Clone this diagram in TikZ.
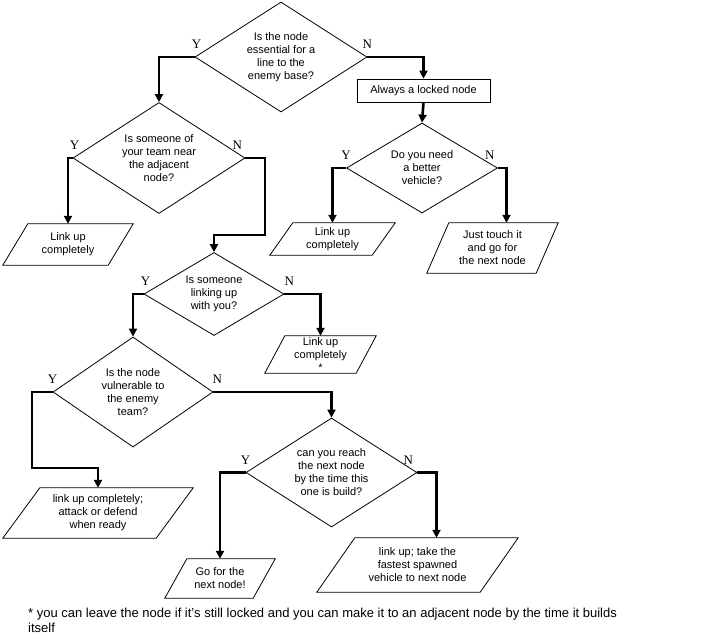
\documentclass[tikz,border=0pt]{standalone}
\usepackage{fontspec}
\setmainfont{Liberation Sans}
\newfontfamily\ynfont{Liberation Serif}
\usetikzlibrary{shapes.geometric,arrows.meta}

% outline of a parallelogram round a plain node
\newcommand{\paraframe}[2]{%
  \draw[line width=0.8pt] ([xshift=#2]#1.north west) -- ([xshift=#2]#1.north east)
    -- ([xshift=-#2]#1.south east) -- ([xshift=-#2]#1.south west) -- cycle;}

\begin{document}
\begin{tikzpicture}[x=1pt,y=-1pt,
  every node/.style={font=\fontsize{11}{13}\selectfont},
  quest/.style={diamond,draw,line width=0.8pt,aspect=1.6,inner sep=0pt,align=center},
  para/.style={inner sep=0pt,align=center},
  yn/.style={font=\ynfont\fontsize{13}{13}\selectfont,above,inner sep=0pt,yshift=7pt},
  arr/.style={line width=2.6pt,-{Triangle[length=8pt,width=8pt]}}]
\useasboundingbox (0,0) rectangle (721,641);

% questions
\node[quest,minimum width=172,minimum height=110] (d1) at (281,57)
  {Is the node\\essential for a\\line to the\\enemy base?};
\node[quest,minimum width=172,minimum height=111] (d2) at (159,158)
  {Is someone of\\your team near\\the adjacent\\node?};
\node[quest,minimum width=140,minimum height=83] (d3) at (214,294)
  {Is someone\\linking up\\with you?};
\node[quest,minimum width=160,minimum height=110] (d4) at (133,392)
  {Is the node\\vulnerable to\\the enemy\\team?};
\node[quest,minimum width=171,minimum height=109] (d5) at (331.5,472.5)
  {can you reach\\the next node\\by the time this\\one is build?};
\node[quest,minimum width=151,minimum height=90] (d6) at (422,168)
  {Do you need\\a better\\vehicle?};
\node[draw,line width=0.8pt,minimum width=133,minimum height=23,inner sep=0pt] (lock) at (423.5,90.5)
  {Always a locked node};

% answers
\node[para,minimum width=105,minimum height=41] (p1) at (68,244.5) {Link up\\completely};
\node[para,minimum width=102,minimum height=32] (p2) at (332.5,239) {Link up\\completely};
\node[para,minimum width=109,minimum height=50] (p3) at (492.5,248) {Just touch it\\and go for\\the next node};
\node[para,minimum width=91,minimum height=37] (p4) at (320.5,354.5) {Link up\\completely\\*};
\node[para,minimum width=153,minimum height=50] (p5) at (98,513) {link up completely;\\attack or defend\\when ready};
\node[para,minimum width=88,minimum height=39] (p6) at (220,578.5) {Go for the\\next node!};
\node[para,minimum width=163,minimum height=54] (p7) at (417.5,565) {link up; take the\\fastest spawned\\vehicle to next node};
\paraframe{p1}{12.5}
\paraframe{p2}{11.5}
\paraframe{p3}{11}
\paraframe{p4}{10}
\paraframe{p5}{18.5}
\paraframe{p6}{11}
\paraframe{p7}{19}

\coordinate (k1) at (265,235);
\coordinate (k2) at (32,468);

% connectors
\draw[arr] (d1.west) node[yn,xshift=2] {Y} -| (d2.north);
\draw[arr] (d1.east) node[yn] {N} -| (lock.north);
\draw[arr] (lock.south) -- (d6.north);
\draw[arr] (d6.west) node[yn] {Y} -| (p2.north);
\draw[arr] (d6.east) node[yn,xshift=-8] {N} -| ([xshift=14]p3.north);
\draw[arr] (d2.west) node[yn,xshift=2] {Y} -| (p1.north);
\draw[arr] (d2.east) node[yn,xshift=-8] {N} -| (k1) -| (d3.north);
\draw[arr] (d3.west) node[yn,xshift=2] {Y} -| (d4.north);
\draw[arr] (d3.east) node[yn,xshift=5] {N} -| (p4.north);
\draw[arr] (d4.west) node[yn] {Y} -| (k2) -| (p5.north);
\draw[arr] (d4.east) node[yn,xshift=4] {N} -| (d5.north);
\draw[arr] (d5.west) node[yn] {Y} -| (p6.north);
\draw[arr] (d5.east) node[yn,xshift=-9] {N} -| ([xshift=19]p7.north);

\node[anchor=north west,align=left,inner sep=0pt,font=\fontsize{13}{15}\selectfont] (note) at (28,607.5)
  {* you can leave the node if it's still locked and you can make it to an adjacent node by the time it builds\\itself};
\end{tikzpicture}
\end{document}
